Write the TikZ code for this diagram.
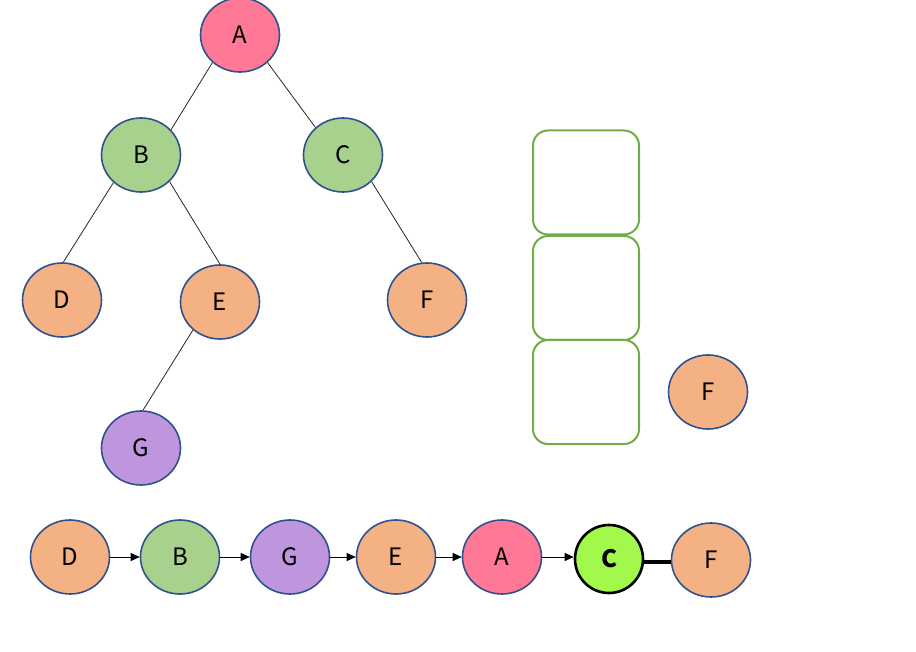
\documentclass[tikz,border=0pt]{standalone}
\usepackage{fontspec}
\setmainfont{Noto Sans CJK SC}
\usetikzlibrary{shapes.geometric,arrows.meta}
\definecolor{cpink}{HTML}{FF7896}
\definecolor{cgreen}{HTML}{A9D18E}
\definecolor{corange}{HTML}{F4B183}
\definecolor{cpurple}{HTML}{BF96DD}
\definecolor{cborder}{HTML}{2F528F}
\definecolor{cbright}{HTML}{A3F84C}
\definecolor{cbox}{HTML}{70AD47}
\tikzset{
  nd/.style={ellipse, draw=cborder, line width=1.6pt, minimum width=79pt, minimum height=74pt, inner sep=0pt, font=\fontsize{24}{24}\selectfont},
  edge/.style={draw=black!85, line width=0.8pt},
  arr/.style={draw=black, line width=1pt, -{Triangle[length=9pt,width=8pt]}},
  stackbox/.style={draw=cbox, line width=2pt, rounded corners=15pt, minimum width=106pt, minimum height=104pt, inner sep=0pt},
}
\begin{document}
\begin{tikzpicture}[x=1pt,y=-1pt]
\useasboundingbox (0,0) rectangle (916,652);
% tree
\node[nd, fill=cpink] (A) at (240,35) {A};
\node[nd, fill=cgreen] (B) at (141,155) {B};
\node[nd, fill=cgreen] (C) at (343,155) {C};
\node[nd, fill=corange] (D) at (62,300) {D};
\node[nd, fill=corange] (E) at (220,302) {E};
\node[nd, fill=corange] (F) at (427,300) {F};
\node[nd, fill=cpurple] (G) at (141,448) {G};
\draw[edge] (A.225) -- (B.40);
\draw[edge] (A.-45) -- (C.135);
\draw[edge] (B.225) -- (D.88);
\draw[edge] (B.-43) -- (E.90);
\draw[edge] (C.-43) -- (F.98);
\draw[edge] (E.226) -- (G.87);
% stack
\node[stackbox] (s1) at (586,182.5) {};
\node[stackbox] (s2) at (586,288) {};
\node[stackbox] (s3) at (586,392) {};
\node[nd, fill=corange] (F2) at (708,392) {F};
% sequence
\node[nd, fill=corange] (qD) at (70,557) {D};
\node[nd, fill=cgreen] (qB) at (180,557) {B};
\node[nd, fill=cpurple] (qG) at (290,557) {G};
\node[nd, fill=corange] (qE) at (396,557) {E};
\node[nd, fill=cpink] (qA) at (502,557) {A};
\node[circle, draw=black, line width=2.6pt, fill=cbright, minimum size=68pt, inner sep=0pt, font=\fontsize{24}{24}\selectfont\bfseries] (qC) at (609,559) {C};
\node[nd, fill=corange] (qF) at (711,560) {F};
\draw[arr] (qD.east) -- (qB.west);
\draw[arr] (qB.east) -- (qG.west);
\draw[arr] (qG.east) -- (qE.west);
\draw[arr] (qE.east) -- (qA.west);
\draw[arr] (qA.east) -- (qC.west |- qA.east);
\draw[line width=3.2pt] (qC.east |- 0,562) -- (qF.west |- 0,562);
\end{tikzpicture}
\end{document}
